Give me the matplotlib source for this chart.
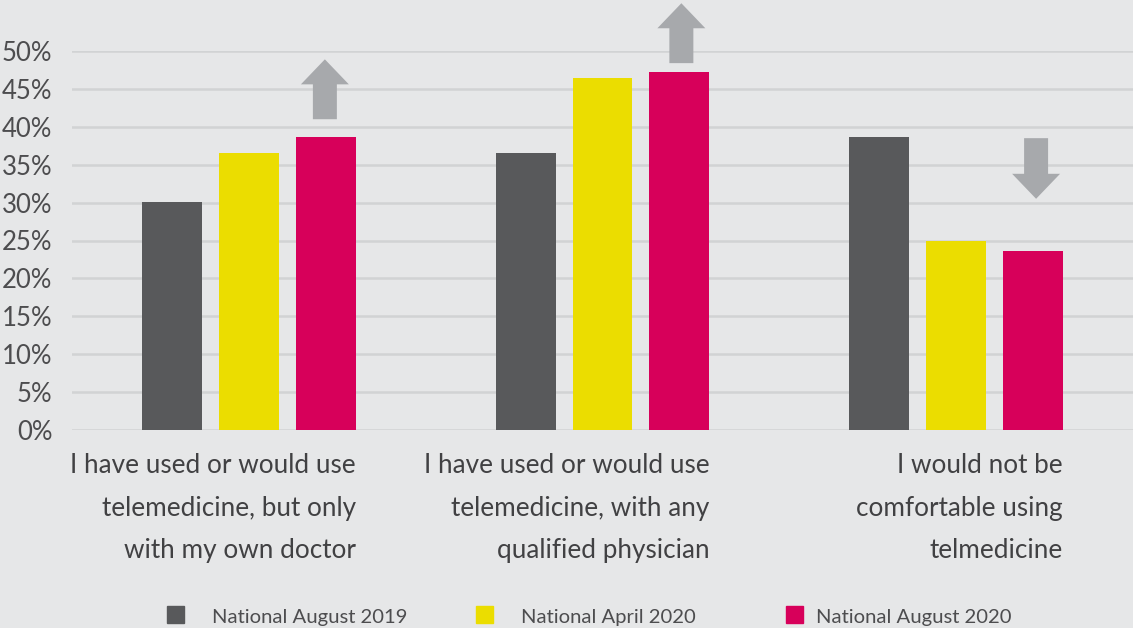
import matplotlib.pyplot as plt
import numpy as np
from matplotlib.patches import FancyArrow, Rectangle

plt.rcParams['font.family'] = ['Lato', 'DejaVu Sans']

categories = ["I have used or would use\ntelemedicine, but only\nwith my own doctor",
              "I have used or would use\ntelemedicine, with any\nqualified physician",
              "I would not be\ncomfortable using\ntelmedicine"]
series = ["National August 2019", "National April 2020", "National August 2020"]
aug2019 = [30.1, 36.5, 38.7]
apr2020 = [36.5, 46.4, 24.9]
aug2020 = [38.7, 47.2, 23.6]
colors = ["#58595b", "#ebdd00", "#d7005a"]
yticks = [0, 5, 10, 15, 20, 25, 30, 35, 40, 45, 50]

# arrows: x, y start, dy
arrows = [(0.215, 41.0, 7.9), (1.223, 48.4, 7.9), (2.226, 38.5, -8.0)]

bg = "#e6e7e8"
fig = plt.figure(figsize=(11.33, 6.28), dpi=100, facecolor=bg)
ax = fig.add_axes([72/1133, 1-430/628, 1-72/1133, 379/628])
ax.set_facecolor(bg)

x = np.arange(len(categories))
off = 77/354
w = 60/354
for i, vals in enumerate([aug2019, apr2020, aug2020]):
    ax.bar(x + (i-1)*off, vals, w, color=colors[i], zorder=3)

ax.set_xlim(-0.5, 2.5)
ax.set_ylim(0, 50)
ax.set_yticks(yticks)
ax.set_yticklabels([f"{t}%" for t in yticks], fontsize=18.5, color="#4d4d4f")
ax.tick_params(axis='y', length=0, pad=14)
ax.set_xticks([])
ax.grid(axis='y', color="#d1d3d4", linewidth=1.8, zorder=0)
for s in ax.spines.values():
    s.set_visible(False)

for ax_x, y0, dy in arrows:
    ax.add_patch(FancyArrow(ax_x, y0, 0, dy, width=24/354, head_width=48/354,
                            head_length=3.3, length_includes_head=True,
                            color="#a7a9ac", lw=0, clip_on=False, zorder=4))

trans = ax.get_xaxis_transform()
for i, lab in enumerate(categories):
    ax.text(x[i] + off + w/2, -0.062, lab, transform=trans, ha='right', va='top',
            fontsize=18.8, color="#414143", linespacing=1.86)

# legend
lx = [167, 476, 786]
tx = [212, 521, 816]
for i in range(3):
    fig.patches.append(Rectangle((lx[i]/1133, 1-623/628), 17/1133, 17/628,
                                 transform=fig.transFigure, color=colors[i]))
    fig.text(tx[i]/1133, 1-623/628, series[i], fontsize=14.6, color="#4d4d4f",
             va='baseline', ha='left')

fig.savefig("out.png", dpi=100, facecolor=bg)
